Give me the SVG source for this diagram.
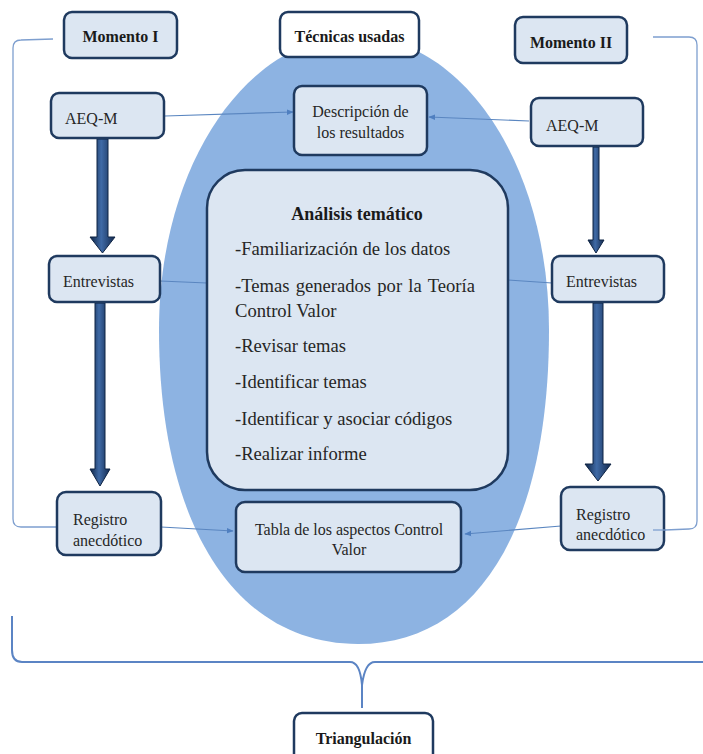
<svg xmlns="http://www.w3.org/2000/svg" width="703" height="754" viewBox="0 0 703 754">
<style>
.box{fill:#DCE6F2;stroke:#1F3A5F;stroke-width:2.5}
.wbox{fill:#FFFFFF;stroke:#1F3A5F;stroke-width:2.5}
text{font-family:"Liberation Serif","Times New Roman",Times,serif}
.t{font-size:16px;fill:#262626}
.tb{font-size:16px;font-weight:bold;fill:#1A1A1A}
.tl{font-size:18.6px;fill:#262626}
.tlb{font-size:18px;font-weight:bold;fill:#1A1A1A}
.c{text-anchor:middle}
.conn{fill:none;stroke:#5A86C0;stroke-width:1.2}
.brk{fill:none;stroke:#7E9FCF;stroke-width:1.3}
.brk2{fill:none;stroke:#5B84C4;stroke-width:2}
.big{fill:url(#shade);stroke:#0F2444;stroke-width:1}
</style>
<defs>
<linearGradient id="shade" x1="0" y1="0" x2="1" y2="0">
<stop offset="0" stop-color="#0F2444"/>
<stop offset="0.45" stop-color="#3F6AA6"/>
<stop offset="1" stop-color="#13294D"/>
</linearGradient>
<marker id="ah" viewBox="0 0 10 10" refX="9" refY="5" markerWidth="7" markerHeight="7" orient="auto" markerUnits="userSpaceOnUse">
<path d="M0,1 L10,5 L0,9 Z" fill="#4F7FC0"/>
</marker>
</defs>

<!-- central ellipse -->
<path id="ellipse" d="M159,330 C159,165 247,36 355,36 C463,36 549,165 549,330 C549,525 480,644 358,644 C235,644 159,525 159,330 Z" fill="#8DB3E2"/>

<!-- brackets -->
<g id="brackets">
<path class="brk" d="M53,39 L21,40 Q13,40 13,48 L13,519 Q13,527 21,527 L56,527"/>
<path class="brk" d="M653,37 L689,37 Q697,37 697,45 L697,521 Q697,529 689,529 L665,530"/>
<path class="brk2" d="M12,616 L12,650 Q12,662 22,662 L350,662 Q360,662 362,685 L362,708 M362,685 Q365,662 375,662 L703,662"/>
</g>

<!-- connectors -->
<g id="connectors">
<line class="conn" x1="165" y1="116" x2="293" y2="112" marker-end="url(#ah)"/>
<line class="conn" x1="529" y1="121" x2="429" y2="117" marker-end="url(#ah)"/>
<line class="conn" x1="160" y1="281" x2="207" y2="283"/>
<line class="conn" x1="508" y1="280" x2="552" y2="283"/>
<line class="conn" x1="161" y1="527" x2="233" y2="531" marker-end="url(#ah)"/>
<line class="conn" x1="561" y1="526" x2="465" y2="534" marker-end="url(#ah)"/>
<path class="big" d="M97,139 L108,139 L108,237 L115,237 L102.5,253 L90,237 L97,237 Z"/>
<path class="big" d="M95,303 L105,303 L105,469 L110,469 L100,486 L90,469 L95,469 Z"/>
<path class="big" d="M593,147 L599,147 L599,240 L604,240 L596,253 L588,240 L593,240 Z"/>
<path class="big" d="M593,303 L603,303 L603,464 L611,464 L598,481 L585,464 L593,464 Z"/>
</g>

<g id="momento1">
<rect class="box" x="64" y="12" width="113" height="46" rx="8"/>
<text class="tb c" x="120.5" y="42">Momento I</text>
</g>
<g id="tecnicas">
<rect class="wbox" x="280" y="12" width="139" height="45" rx="8"/>
<text class="tb c" x="349.5" y="42">Técnicas usadas</text>
</g>
<g id="momento2">
<rect class="box" x="515" y="17" width="112" height="46" rx="8"/>
<text class="tb c" x="571" y="48">Momento II</text>
</g>
<g id="aeqm1">
<rect class="box" x="51" y="93" width="113" height="45" rx="8"/>
<text class="t" x="65" y="124">AEQ-M</text>
</g>
<g id="aeqm2">
<rect class="box" x="531" y="98" width="112" height="48" rx="8"/>
<text class="t" x="546" y="131">AEQ-M</text>
</g>
<g id="descripcion">
<rect class="box" x="294" y="86" width="133" height="69" rx="8"/>
<text class="t c" x="360.5" y="117">Descripción de</text>
<text class="t c" x="360.5" y="138">los resultados</text>
</g>
<g id="analisis">
<rect class="box" x="207" y="170" width="301" height="320" rx="38"/>
<text class="tlb c" x="357" y="220">Análisis temático</text>
<text class="tl" x="235" y="255">-Familiarización de los datos</text>
<text class="tl" x="235" y="292" word-spacing="1.6">-Temas generados por la Teoría</text>
<text class="tl" x="235" y="317">Control Valor</text>
<text class="tl" x="235" y="352">-Revisar temas</text>
<text class="tl" x="235" y="388">-Identificar temas</text>
<text class="tl" x="235" y="425">-Identificar y asociar códigos</text>
<text class="tl" x="235" y="460">-Realizar informe</text>
</g>
<g id="entrevistas1">
<rect class="box" x="49" y="256" width="111" height="46" rx="8"/>
<text class="t" x="63" y="287">Entrevistas</text>
</g>
<g id="entrevistas2">
<rect class="box" x="552" y="256" width="112" height="46" rx="8"/>
<text class="t" x="566" y="287">Entrevistas</text>
</g>
<g id="registro1">
<rect class="box" x="57" y="492" width="104" height="63" rx="9"/>
<text class="t" x="73" y="525">Registro</text>
<text class="t" x="73" y="546">anecdótico</text>
</g>
<g id="registro2">
<rect class="box" x="561" y="487" width="103" height="63" rx="9"/>
<text class="t" x="576" y="520">Registro</text>
<text class="t" x="576" y="540">anecdótico</text>
</g>
<line class="brk" x1="653" y1="530" x2="666" y2="530"/>
<g id="tabla">
<rect class="box" x="236" y="502" width="225" height="70" rx="9"/>
<text class="t c" x="349" y="535">Tabla de los aspectos Control</text>
<text class="t c" x="349" y="555">Valor</text>
</g>
<g id="triangulacion">
<rect class="wbox" x="294" y="713" width="139" height="60" rx="8"/>
<text class="tb c" x="363.5" y="744">Triangulación</text>
</g>
</svg>
